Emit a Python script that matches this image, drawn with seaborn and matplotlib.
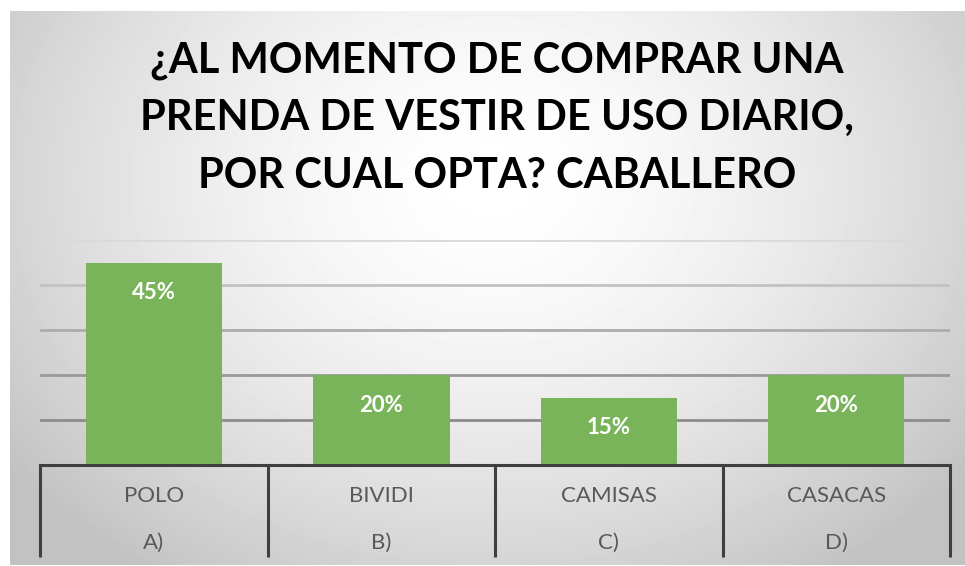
import numpy as np
import matplotlib
matplotlib.use("Agg")
import matplotlib.pyplot as plt
import matplotlib.transforms as mtransforms
import seaborn as sns

sns.set_theme(style="white")
plt.rcParams['font.family'] = ['Lato', 'DejaVu Sans']

# data
categories = ["POLO", "BIVIDI", "CAMISAS", "CASACAS"]
letters = ["A)", "B)", "C)", "D)"]
values = [45, 20, 15, 20]
title_lines = ["¿AL MOMENTO DE COMPRAR UNA",
               "PRENDA DE VESTIR DE USO DIARIO,",
               "POR CUAL OPTA? CABALLERO"]

W, H = 965, 566
fig = plt.figure(figsize=(W / 100, H / 100), dpi=100)
fig.patch.set_facecolor('white')

# radial grey gradient panel behind the chart
bg = fig.add_axes([10 / W, 1 / H, (W - 10) / W, (H - 12) / H], zorder=-5)
yy, xx = np.mgrid[0:H - 12, 0:W - 10]
d = np.sqrt(((xx - 480) / 600.0) ** 2 + ((yy - 170) / 480.0) ** 2)
shade = 1.0 - 0.24 * np.clip(d, 0, 1) ** 1.6
bg.imshow(shade, cmap='gray', vmin=0, vmax=1, aspect='auto', interpolation='bilinear')
bg.set_axis_off()

# main plot area
ax = fig.add_axes([40 / W, (H - 465) / H, 910 / W, 225 / H])
ax.patch.set_alpha(0)
sns.barplot(x=categories, y=values, color='#79b45b', saturation=1, width=0.6,
            linewidth=0, ax=ax, zorder=3)
ax.set_xlim(-0.5, len(categories) - 0.5)
ax.set_ylim(0, 50)

# horizontal gridlines, darker toward the bottom
ax.set_yticks([10, 20, 30, 40, 50])
ax.yaxis.grid(True, linewidth=2, zorder=0)
grid_cols = ['#8c8c8c', '#999999', '#acacac', '#c2c2c2', '#dadada']
for gl, c in zip(ax.yaxis.get_gridlines(), grid_cols):
    gl.set_color(c)
ax.tick_params(axis='y', length=0, labelleft=False)
ax.set_xlabel('')
ax.set_ylabel('')

for s in ['top', 'right', 'left']:
    ax.spines[s].set_visible(False)
ax.spines['bottom'].set_color('#3f3f3f')
ax.spines['bottom'].set_linewidth(2.2)
ax.spines['bottom'].set_zorder(5)

# category boxes: minor ticks as separators
ax.set_xticks(np.arange(-0.5, len(categories)), minor=True)
ax.tick_params(axis='x', which='minor', length=66, width=2.2, color='#3f3f3f',
               direction='out', bottom=True)
ax.tick_params(axis='x', which='major', length=0, pad=15, labelsize=16,
               labelcolor='#595959')

trans = mtransforms.blended_transform_factory(ax.transData, ax.transAxes)
for i, lt in enumerate(letters):
    ax.text(i, -(549 - 465) / 225, lt, transform=trans, ha='center', va='baseline',
            fontsize=16, color='#595959')

# value labels inside the bars
for i, v in enumerate(values):
    ax.annotate(f"{v}%", (i, v), xytext=(0, -26.5), textcoords='offset points',
                ha='center', va='baseline', color='white', fontsize=16,
                fontweight='bold', zorder=6)

# title
for line, yb in zip(title_lines, [73, 130, 188]):
    fig.text(497 / W, 1 - yb / H, line, ha='center', va='baseline',
             fontsize=30, fontweight='bold', color='black')

fig.savefig('out.png', dpi=100)
